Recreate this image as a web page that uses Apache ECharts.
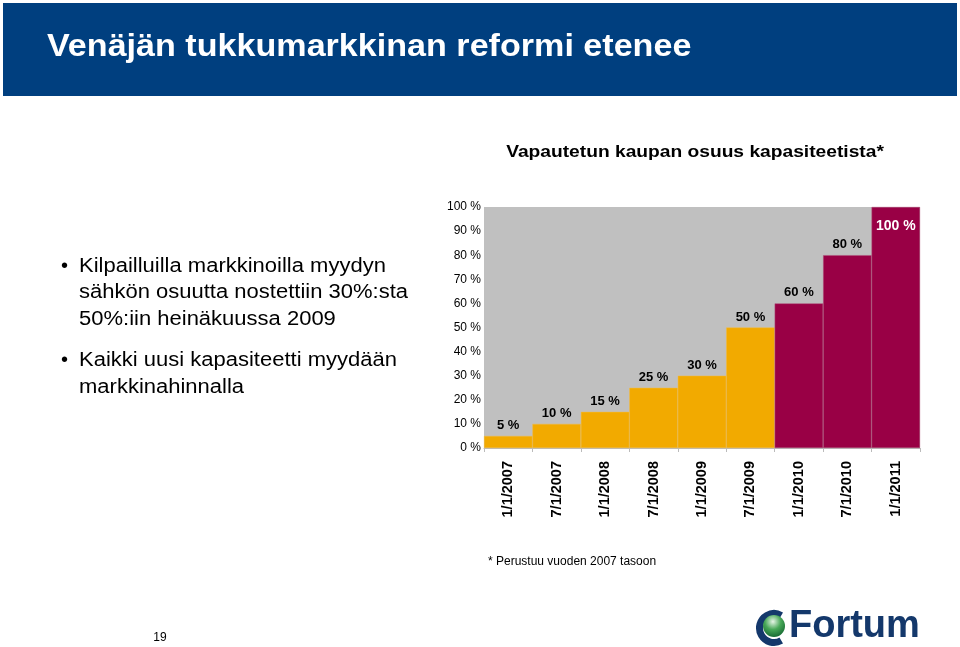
<!DOCTYPE html>
<html><head><meta charset="utf-8">
<script src="https://cdn.jsdelivr.net/npm/echarts@6/dist/echarts.min.js"></script>
<style>html,body{margin:0;padding:0;background:#fff}#c{width:960px;height:647px}</style>
</head><body><div id="c"></div>
<script>
const categories = ['1/1/2007','7/1/2007','1/1/2008','7/1/2008','1/1/2009','7/1/2009','1/1/2010','7/1/2010','1/1/2011'];
const phaseOneValues = [5, 10, 15, 25, 30, 50, null, null, null];
const phaseTwoValues = [null, null, null, null, null, null, 60, 80, 100];
const yTicks = [0, 10, 20, 30, 40, 50, 60, 70, 80, 90, 100];
const titleText = 'Venäjän tukkumarkkinan reformi etenee';
const chartTitle = 'Vapautetun kaupan osuus kapasiteetista*';
const bullets = [
  ['Kilpailluilla markkinoilla myydyn', 'sähkön osuutta nostettiin 30%:sta', '50%:iin heinäkuussa 2009'],
  ['Kaikki uusi kapasiteetti myydään', 'markkinahinnalla']
];
const footnote = '* Perustuu vuoden 2007 tasoon';
const pageNo = '19';

const chart = echarts.init(document.getElementById('c'), null, {renderer: 'canvas'});
const F = 'Liberation Sans, Arial, sans-serif';

const graphics = [
  {type: 'rect', shape: {x: 3, y: 3, width: 954, height: 93}, style: {fill: '#003F7F'}},
  {type: 'text', x: 47, y: 47, scaleX: 1.1, style: {text: titleText, fill: '#fff', font: 'bold 31px ' + F, textVerticalAlign: 'middle'}},
  {type: 'text', x: 695, y: 153, scaleX: 1.2, style: {text: chartTitle, fill: '#000', font: 'bold 16px ' + F, textAlign: 'center', textVerticalAlign: 'middle'}},
  {type: 'text', x: 488, y: 562, style: {text: footnote, fill: '#000', font: '12px ' + F, textVerticalAlign: 'middle'}},
  {type: 'text', x: 160, y: 638, style: {text: pageNo, fill: '#000', font: '12px ' + F, textAlign: 'center', textVerticalAlign: 'middle'}}
];
let y = 266;
bullets.forEach((b) => {
  graphics.push({type: 'text', x: 61, y: y, style: {text: '•', fill: '#000', font: '20px ' + F, textVerticalAlign: 'middle'}});
  b.forEach((line) => {
    graphics.push({type: 'text', x: 79, y: y, scaleX: 1.1, style: {text: line, fill: '#000', font: '20px ' + F, textVerticalAlign: 'middle'}});
    y += 26.5;
  });
  y += 15;
});
// Fortum logo
graphics.push(
  {type: 'arc', shape: {cx: 774, cy: 628, r: 14.5, startAngle: Math.PI / 3, endAngle: Math.PI * 5 / 3, clockwise: true}, style: {stroke: '#14386B', lineWidth: 7, fill: null}},
  {type: 'circle', shape: {cx: 774, cy: 626, r: 11}, style: {fill: {type: 'radial', x: 0.45, y: 0.3, r: 0.8, colorStops: [{offset: 0, color: '#e6f5e6'}, {offset: 0.45, color: '#48a858'}, {offset: 1, color: '#0a5a2a'}]}}},
  {type: 'text', x: 789, y: 627, style: {text: 'Fortum', fill: '#14386B', font: 'bold 38px ' + F, textVerticalAlign: 'middle'}}
);

const labelCommon = {show: true, position: 'top', distance: 4, formatter: '{c} %', color: '#000', fontWeight: 'bold', fontSize: 13, fontFamily: F};

chart.setOption({
  animation: false,
  graphic: graphics,
  grid: {left: 484, right: 40, top: 207, bottom: 199, show: true, backgroundColor: '#C0C0C0', borderWidth: 0},
  xAxis: {
    type: 'category', data: categories,
    axisLine: {show: true, lineStyle: {color: '#bbb', width: 1}},
    axisTick: {show: true, alignWithLabel: false, length: 4, lineStyle: {color: '#bbb'}},
    axisLabel: {rotate: 90, margin: 13, color: '#000', fontWeight: 'bold', fontSize: 14.5, fontFamily: F, interval: 0}
  },
  yAxis: {
    type: 'value', min: yTicks[0], max: yTicks[yTicks.length - 1], interval: 10,
    axisLine: {show: false}, axisTick: {show: false}, splitLine: {show: false},
    axisLabel: {formatter: '{value} %', color: '#000', fontSize: 12, fontFamily: F, margin: 3}
  },
  series: [
    {type: 'bar', data: phaseOneValues, barWidth: '100%', barGap: '-100%',
     itemStyle: {color: '#F2AA00', borderColor: '#F5BD40', borderWidth: 0.5},
     label: labelCommon},
    {type: 'bar', barWidth: '100%', barGap: '-100%',
     data: phaseTwoValues.map((v) => v === 100 ? {value: v, label: {position: 'insideTop', color: '#fff', distance: 12, fontSize: 14}} : v),
     itemStyle: {color: '#990045', borderColor: '#B0507A', borderWidth: 0.5},
     label: labelCommon}
  ]
});
</script>
</body></html>
